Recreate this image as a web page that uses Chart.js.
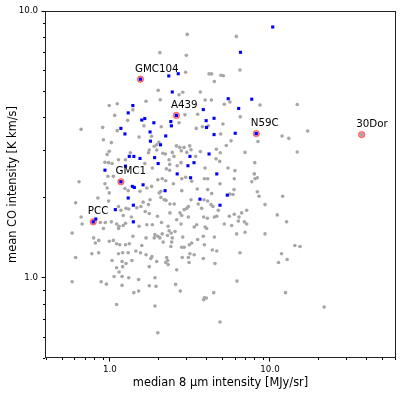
<!DOCTYPE html>
<html>
<head>
<meta charset="utf-8">
<script src="https://cdn.jsdelivr.net/npm/chart.js@4.4.0/dist/chart.umd.min.js"></script>
<style>
  html, body { margin: 0; padding: 0; background: #fff; }
  #wrap { width: 407px; height: 399px; }
</style>
</head>
<body>
<div id="wrap"><canvas id="chart" width="407" height="399"></canvas></div>
<script>
// all clouds: [median 8um intensity (MJy/sr), mean CO intensity (K km/s)]
var grayPoints = [
  [0.66,3.60],[0.90,3.66],[0.99,4.42],[1.11,4.49],[1.07,4.06],[1.29,3.89],[1.68,4.59],[1.39,4.26],[1.11,3.56],[0.91,3.29],
  [1.02,3.21],[0.99,2.98],[0.96,2.90],[1.89,3.11],[1.74,2.94],[1.76,3.01],[0.93,2.71],[0.98,2.70],[1.03,2.68],[1.13,2.77],
  [1.25,2.77],[1.65,2.68],[1.84,2.58],[1.34,2.94],[1.63,3.71],[1.82,3.39],[1.52,3.37],
  [3.04,8.17],[6.16,8.03],[2.05,6.98],[3.00,6.82],[6.49,6.01],[2.97,5.89],[4.16,5.81],[4.32,5.81],[4.94,5.74],[5.11,5.72],
  [4.49,5.44],[2.00,5.04],[2.85,4.96],[2.70,4.85],[3.67,4.97],[2.06,4.65],[3.93,4.64],[4.30,4.64],[5.18,4.47],[5.62,4.56],
  [2.94,4.08],[3.53,4.10],[2.70,3.81],[3.46,3.63],[3.78,3.68],[4.12,3.71],[5.08,3.77],[5.71,3.26],[5.33,3.13],[4.62,3.03],
  [2.09,3.68],[2.60,3.12],[2.73,3.08],[2.90,3.08],[2.79,2.99],[3.15,3.12],[3.21,3.02],[3.02,2.95],[3.67,2.97],[6.98,2.95],
  [2.45,2.95],[2.51,2.85],[2.34,2.77],[2.14,2.93],[2.22,2.91],[3.43,2.85],[4.60,2.79],[4.85,2.73],[2.25,2.56],[2.36,2.53],
  [2.63,2.63],[2.78,2.70],[3.93,2.58],[5.47,2.58],[6.04,2.52],[1.96,3.15],[2.02,3.22],[1.96,3.01],[4.92,3.46],[6.52,4.01],
  [4.89,2.94],[2.36,2.66],
  [8.66,4.44],[14.8,4.46],[17.2,3.55],[11.9,3.40],[13.1,3.33],[8.41,3.24],[14.8,2.96],[8.03,2.70],
  [7.98,2.45],[8.33,2.37],[8.06,2.35],[7.69,2.29],[8.33,2.10],[8.54,2.02],[12.0,2.02],[9.31,1.88],[11.1,1.72],[12.7,1.62],
  [9.31,1.46],[14.3,1.32],[15.4,1.31],[11.8,1.23],[12.8,1.17],[11.3,1.14],[12.5,0.879],[21.8,0.776],
  [0.64,2.29],[0.93,2.25],[0.96,2.17],[0.61,1.91],[0.84,1.99],[0.98,1.94],[0.99,2.08],[1.24,2.16],[1.30,2.12],[1.54,2.11],
  [1.70,2.17],[1.82,2.20],[1.78,1.96],[1.74,1.88],[1.61,1.92],[1.56,1.85],[1.13,1.85],[1.17,1.79],[1.26,1.82],[1.31,1.81],
  [1.21,1.71],[1.66,1.77],[1.76,1.74],[0.66,1.69],[0.67,1.59],[0.87,1.61],[0.935,1.61],[0.91,1.53],[1.02,1.62],[1.10,1.59],
  [1.14,1.56],[1.13,1.53],[1.21,1.57],[1.25,1.60],[1.52,1.56],[1.70,1.58],[1.84,1.58],[0.58,1.47],[0.79,1.41],[0.81,1.35],
  [0.85,1.38],[0.99,1.37],[1.05,1.38],[1.39,1.43],[1.68,1.41],[1.89,1.41],[1.10,1.34],[1.15,1.33],[1.25,1.33],[1.32,1.34],
  [1.13,1.23],[1.20,1.24],[1.30,1.24],[1.45,1.26],[1.55,1.24],[1.58,1.32],[1.68,1.22],[1.83,1.20],[0.77,1.23],[0.85,1.24],
  [0.61,1.19],[1.03,1.16],[1.19,1.15],[1.26,1.13],[1.37,1.16],[1.80,1.18],[1.10,1.09],[1.20,1.10],[1.76,1.10],[1.14,1.05],
  [1.06,1.01],[1.19,1.01],[1.31,1.00],[1.51,0.985],[1.76,0.933],[0.58,0.966],[0.88,0.966],[0.95,0.946],[1.19,0.936],[1.41,0.879],
  [1.51,0.891],[1.10,0.794],[0.97,2.40],[1.05,2.40],[1.47,1.83],[1.36,1.69],
  [1.99,2.33],[2.12,2.35],[2.23,2.31],[2.49,2.25],[2.81,2.35],[2.97,2.38],[3.24,2.30],[3.89,2.35],[4.08,2.35],[4.87,2.25],
  [5.98,2.35],[2.08,2.11],[2.03,2.08],[2.81,2.12],[3.51,2.15],[4.08,2.14],[4.32,2.07],[5.96,2.14],[5.62,2.06],[5.87,2.05],
  [2.08,2.00],[2.18,1.96],[2.24,1.95],[2.37,1.89],[2.52,1.89],[3.21,1.96],[3.87,1.96],[4.08,1.94],[4.28,1.88],[4.40,1.85],
  [3.56,1.89],[3.09,1.85],[3.02,1.82],[2.91,1.80],[3.74,1.82],[4.75,1.79],[4.65,1.70],[4.49,1.69],[7.15,1.79],[6.65,1.75],
  [6.40,1.69],[5.57,1.70],[5.98,1.73],[1.98,1.70],[2.37,1.75],[2.74,1.75],[2.81,1.71],[2.61,1.65],[3.09,1.69],[3.85,1.69],
  [4.06,1.67],[2.10,1.61],[2.31,1.56],[2.78,1.59],[3.48,1.58],[3.36,1.55],[3.93,1.55],[4.02,1.53],[5.18,1.59],[5.76,1.57],
  [6.34,1.63],[6.91,1.62],[7.15,1.59],[6.19,1.46],[6.98,1.48],[1.91,1.45],[1.99,1.43],[2.12,1.46],[2.05,1.41],[2.34,1.50],
  [2.29,1.44],[2.41,1.47],[2.55,1.49],[2.85,1.42],[2.15,1.36],[2.45,1.41],[2.43,1.36],[2.40,1.31],[3.24,1.35],[3.13,1.33],
  [3.53,1.39],[3.83,1.43],[3.89,1.33],[4.49,1.42],[2.81,1.30],[2.91,1.30],[2.83,1.19],[3.09,1.19],[3.16,1.23],[3.36,1.22],
  [3.83,1.18],[4.36,1.27],[4.65,1.26],[6.49,1.24],[1.96,1.15],[2.26,1.19],[2.29,1.16],[2.23,1.14],[2.31,1.12],[3.12,1.14],
  [4.53,1.13],[2.61,1.07],[1.91,1.00],[1.94,0.928],[2.57,0.944],[2.75,0.891],[6.22,0.971],[4.45,0.879],[3.89,0.841],[4.00,0.839],
  [3.85,0.827],[1.91,0.783],[4.87,0.682],[1.99,0.622]
];

// highlighted subset (blue squares)
var bluePoints = [
  [10.4,8.71],[6.54,7.00],[2.33,5.71],[2.67,5.82],[2.45,4.97],[5.48,4.69],[7.69,4.67],[1.39,4.42],[3.83,4.27],[6.37,4.31],
  [1.30,4.15],[1.58,3.90],[1.65,3.95],[4.47,3.96],[3.99,3.88],[1.88,3.81],[2.40,3.85],[2.42,3.71],[4.01,3.66],[1.17,3.63],
  [1.78,3.52],[1.24,3.46],[2.23,3.40],[4.47,3.44],[6.06,3.48],[1.79,3.25],[2.07,3.15],[4.16,2.91],[1.32,2.85],[1.41,2.85],
  [1.54,2.80],[1.90,2.82],[3.16,2.85],[3.35,2.70],[3.07,2.63],[2.00,2.68],[0.93,2.53],[1.25,2.62],[2.63,2.45],[4.65,2.45],
  [3.19,2.37],[1.38,2.20],[1.42,2.18],[1.61,2.23],[2.21,2.12],[1.30,1.99],[3.65,1.97],[5.41,2.04],[1.40,1.87],[4.87,1.87],
  [1.08,1.80],[1.40,1.62],[0.815,1.66]
];

// named regions (red circles)
var srcNames = ['GMC104', 'A439', 'N59C', '30Dor', 'GMC1', 'PCC'];
var srcX = [1.55, 2.60, 8.21, 37.4, 1.17, 0.786];
var srcY = [5.55, 4.06, 3.47, 3.44, 2.29, 1.62];
var srcInBlue = [true, true, true, false, true, true];

var xTicks = [0.4, 0.5, 0.6, 0.7, 0.8, 0.9, 1, 2, 3, 4, 5, 6, 7, 8, 9, 10, 20, 30, 40, 50, 60];
var yTicks = [0.5, 0.6, 0.7, 0.8, 0.9, 1, 2, 3, 4, 5, 6, 7, 8, 9, 10];

function toXY(p) { return { x: p[0], y: p[1] }; }
function isDecade(v) { return v === 1 || v === 10; }

var grayData = grayPoints.map(toXY);
var blueData = bluePoints.map(toXY);
var srcData = [];
for (var i = 0; i < srcNames.length; i++) {
    srcData.push({ x: srcX[i], y: srcY[i] });
    if (srcInBlue[i]) blueData.push({ x: srcX[i], y: srcY[i] });
    else grayData.push({ x: srcX[i], y: srcY[i] });
}

Chart.defaults.font.family = "'DejaVu Sans', sans-serif";
Chart.defaults.color = '#000';

// frame, minor ticks and region names
var extras = {
    id: 'extras',
    afterDatasetsDraw: function (chart) {
        var ctx = chart.ctx, xs = chart.scales.x, ys = chart.scales.y;
        ctx.save();
        ctx.font = "10.3px 'DejaVu Sans', sans-serif";
        ctx.fillStyle = '#000';
        ctx.textAlign = 'left';
        ctx.textBaseline = 'alphabetic';
        for (var i = 0; i < srcNames.length; i++) {
            var px = xs.getPixelForValue(srcX[i]);
            var py = ys.getPixelForValue(srcY[i]);
            ctx.fillText(srcNames[i], px - 5.5, py - 7.5);
        }
        ctx.restore();
    },
    afterDraw: function (chart) {
        var ctx = chart.ctx, a = chart.chartArea;
        var xs = chart.scales.x, ys = chart.scales.y;
        ctx.save();
        ctx.strokeStyle = '#000';
        ctx.lineWidth = 1;
        ctx.beginPath();
        xTicks.forEach(function (v) {
            if (isDecade(v)) return;
            var px = Math.round(xs.getPixelForValue(v)) + 0.5;
            ctx.moveTo(px, a.bottom);
            ctx.lineTo(px, a.bottom + 2);
        });
        yTicks.forEach(function (v) {
            if (isDecade(v)) return;
            var py = Math.round(ys.getPixelForValue(v)) + 0.5;
            ctx.moveTo(a.left - 2, py);
            ctx.lineTo(a.left, py);
        });
        ctx.stroke();
        ctx.strokeStyle = '#222';
        ctx.strokeRect(Math.round(a.left) + 0.5, Math.round(a.top) + 0.5,
            Math.round(a.right - a.left) - 1, Math.round(a.bottom - a.top) - 1);
        ctx.restore();
    }
};

var chart = new Chart(document.getElementById('chart').getContext('2d'), {
    type: 'scatter',
    data: {
        datasets: [
            {
                label: 'blue',
                data: blueData,
                order: 0,
                pointStyle: 'rect',
                pointRadius: 2.2,
                borderWidth: 0,
                backgroundColor: '#0000ff'
            },
            {
                label: 'all',
                data: grayData,
                order: 1,
                pointRadius: 1.8,
                borderWidth: 0,
                backgroundColor: '#a6a6a6'
            },
            {
                label: 'named',
                data: srcData,
                order: 2,
                pointRadius: 3.2,
                borderWidth: 1,
                borderColor: 'rgba(255,0,0,0.45)',
                backgroundColor: 'rgba(255,0,0,0.45)'
            }
        ]
    },
    plugins: [extras],
    options: {
        responsive: false,
        animation: false,
        events: [],
        layout: { padding: { left: 0, top: 11, right: 11, bottom: 0 } },
        plugins: { legend: { display: false }, tooltip: { enabled: false } },
        scales: {
            x: {
                type: 'logarithmic',
                min: 0.3925,
                max: 61.3,
                afterBuildTicks: function (scale) {
                    scale.ticks = xTicks.map(function (v) { return { value: v, major: isDecade(v) }; });
                },
                afterFit: function (scale) { scale.height = 41; },
                border: { display: false },
                grid: {
                    drawOnChartArea: false,
                    tickLength: 3.5,
                    tickColor: function (c) { return c.tick && isDecade(c.tick.value) ? '#000' : 'rgba(0,0,0,0)'; }
                },
                ticks: {
                    autoSkip: false,
                    maxRotation: 0,
                    padding: 3.3,
                    font: { size: 8.7 },
                    color: '#000',
                    callback: function (v) { return v === 1 ? '1.0' : v === 10 ? '10.0' : ''; }
                },
                title: {
                    display: true,
                    text: 'median 8 \u03bcm intensity [MJy/sr]',
                    font: { size: 11.4 },
                    color: '#000',
                    padding: { top: 0, bottom: 8.9 }
                }
            },
            y: {
                type: 'logarithmic',
                min: 0.5,
                max: 10,
                afterBuildTicks: function (scale) {
                    scale.ticks = yTicks.map(function (v) { return { value: v, major: isDecade(v) }; });
                },
                afterFit: function (scale) { scale.width = 45; },
                border: { display: false },
                grid: {
                    drawOnChartArea: false,
                    tickLength: 3.5,
                    tickColor: function (c) { return c.tick && isDecade(c.tick.value) ? '#000' : 'rgba(0,0,0,0)'; }
                },
                ticks: {
                    autoSkip: false,
                    padding: 3.5,
                    font: { size: 8.7 },
                    color: '#000',
                    callback: function (v) { return v === 1 ? '1.0' : v === 10 ? '10.0' : ''; }
                },
                title: {
                    display: true,
                    text: 'mean CO intensity [K km/s]',
                    font: { size: 11.4 },
                    color: '#000',
                    padding: { top: 6, bottom: 0 }
                }
            }
        }
    }
});
</script>
</body>
</html>
